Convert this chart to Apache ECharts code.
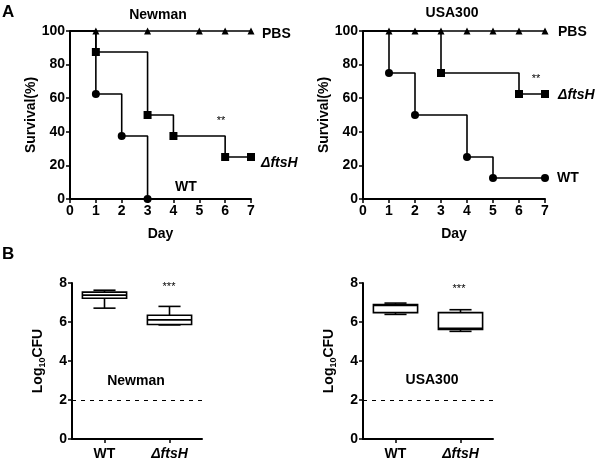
<!DOCTYPE html>
<html><head><meta charset="utf-8">
<script src="https://cdn.jsdelivr.net/npm/echarts@6/dist/echarts.min.js"></script>
<style>html,body{margin:0;padding:0;background:#fff}#c{width:600px;height:462px}</style>
</head><body><div id="c"></div>
<script>
// ---- Panel A: survival (Kaplan-Meier) ----
const newmanPbsDays = [0, 1, 3, 5, 6, 7];
const newmanPbsVals = [100, 100, 100, 100, 100, 100];
const newmanFtsDays = [0, 1, 3, 4, 6, 7];
const newmanFtsVals = [100, 87.5, 50, 37.5, 25, 25];
const newmanWtDays = [0, 1, 2, 3];
const newmanWtVals = [100, 62.5, 37.5, 0];

const usaPbsDays = [0, 1, 2, 3, 4, 5, 6, 7];
const usaPbsVals = [100, 100, 100, 100, 100, 100, 100, 100];
const usaFtsDays = [0, 3, 6, 7];
const usaFtsVals = [100, 75, 62.5, 62.5];
const usaWtDays = [0, 1, 2, 4, 5, 7];
const usaWtVals = [100, 75, 50, 25, 12.5, 12.5];

// ---- Panel B: Log10 CFU box plots [min, Q1, median, Q3, max] ----
const boxCategories = ['WT', 'ΔftsH'];
const newmanBoxWT = [6.71, 7.22, 7.38, 7.53, 7.63];
const newmanBoxFts = [5.85, 5.87, 6.11, 6.35, 6.80];
const usaBoxWT = [6.39, 6.48, 6.85, 6.90, 6.97];
const usaBoxFts = [5.52, 5.62, 5.68, 6.48, 6.63];
const detectionLimit = 2;

const FF = '"Liberation Sans", Arial, sans-serif';
const chart = echarts.init(document.getElementById('c'), null, {renderer: 'canvas'});

function kmData(days, vals) {
  return days.map((d, i) => i === 0 ? {value: [d, vals[i]], symbol: 'none'} : [d, vals[i]]);
}
function kmSeries(idx, days, vals, symbol, size) {
  return {
    type: 'line', xAxisIndex: idx, yAxisIndex: idx, step: 'end',
    data: kmData(days, vals), symbol: symbol, symbolSize: size, showSymbol: true,
    lineStyle: {color: '#000', width: 1.6}, itemStyle: {color: '#000'},
    clip: false, animation: false, z: 3
  };
}
function boxSeries(idx, boxes) {
  return {
    type: 'custom', xAxisIndex: idx, yAxisIndex: idx, clip: false, animation: false,
    data: boxes.map((b, i) => [i].concat(b)),
    encode: {x: 0, y: [1, 2, 3, 4, 5]},
    renderItem: function (params, api) {
      const i = api.value(0);
      const mn = api.coord([i, api.value(1)]);
      const q1 = api.coord([i, api.value(2)]);
      const md = api.coord([i, api.value(3)]);
      const q3 = api.coord([i, api.value(4)]);
      const mx = api.coord([i, api.value(5)]);
      const bw = api.size([1, 0])[0] * 0.68;
      const cw = bw * 0.5;
      const cx = md[0];
      const st = {stroke: '#000', lineWidth: 1.6, fill: null};
      return {
        type: 'group', children: [
          {type: 'line', shape: {x1: cx, y1: q3[1], x2: cx, y2: mx[1]}, style: st},
          {type: 'line', shape: {x1: cx, y1: q1[1], x2: cx, y2: mn[1]}, style: st},
          {type: 'line', shape: {x1: cx - cw / 2, y1: mx[1], x2: cx + cw / 2, y2: mx[1]}, style: st},
          {type: 'line', shape: {x1: cx - cw / 2, y1: mn[1], x2: cx + cw / 2, y2: mn[1]}, style: st},
          {type: 'rect', shape: {x: cx - bw / 2, y: q3[1], width: bw, height: q1[1] - q3[1]},
            style: {stroke: '#000', lineWidth: 1.6, fill: '#fff'}},
          {type: 'line', shape: {x1: cx - bw / 2, y1: md[1], x2: cx + bw / 2, y2: md[1]}, style: st}
        ]
      };
    }
  };
}
function limitSeries(idx) {
  return {
    type: 'line', xAxisIndex: idx, yAxisIndex: idx, data: [], animation: false,
    markLine: {
      silent: true, symbol: 'none', label: {show: false},
      lineStyle: {color: '#000', type: [4, 5], width: 1.2},
      data: [{yAxis: detectionLimit}]
    }
  };
}

const axisLine = {show: true, onZero: false, lineStyle: {color: '#000', width: 2}};
const axisTick = {show: true, inside: false, length: 4, lineStyle: {color: '#000', width: 1.5}};
const axisLabel = {color: '#000', fontWeight: 'bold', fontSize: 14, fontFamily: FF, margin: 5};
const nameStyle = {color: '#000', fontWeight: 'bold', fontSize: 14, fontFamily: FF};

function survX(gi) {
  return {type: 'value', gridIndex: gi, min: 0, max: 7, interval: 1, axisLine, axisTick, axisLabel,
    splitLine: {show: false}, name: 'Day', nameLocation: 'middle', nameGap: 28, nameTextStyle: nameStyle};
}
function survY(gi) {
  return {type: 'value', gridIndex: gi, min: 0, max: 100, interval: 20, axisLine, axisTick, axisLabel,
    splitLine: {show: false}, name: 'Survival(%)', nameLocation: 'middle', nameGap: 31, nameTextStyle: nameStyle};
}
function boxX(gi) {
  return {type: 'category', gridIndex: gi, data: boxCategories, axisLine,
    axisTick: {show: true, alignWithLabel: true, interval: 0, length: 4, lineStyle: {color: '#000', width: 1.5}},
    axisLabel: {color: '#000', fontWeight: 'bold', fontSize: 14, fontFamily: FF, margin: 8, interval: 0,
      hideOverlap: false,
      formatter: v => v === 'WT' ? v : '{i|' + v + '}',
      rich: {i: {fontStyle: 'italic', fontWeight: 'bold', fontSize: 14, fontFamily: FF, color: '#000'}}},
    splitLine: {show: false}};
}
function boxY(gi) {
  return {type: 'value', gridIndex: gi, min: 0, max: 8, interval: 2, axisLine, axisTick, axisLabel,
    splitLine: {show: false}, name: '{a|Log}{s|10}{a|CFU}', nameLocation: 'middle', nameGap: 25,
    nameTextStyle: {rich: {
      a: {color: '#000', fontWeight: 'bold', fontSize: 14, fontFamily: FF},
      s: {color: '#000', fontWeight: 'bold', fontSize: 9, fontFamily: FF, padding: [9, 0, 0, 0]}
    }}};
}

function txt(x, y, text, size, opts) {
  opts = opts || {};
  return {type: 'text', x: x, y: y, silent: true, style: {
    text: text, fill: '#000',
    font: (opts.italic ? 'italic ' : '') + (opts.bold === false ? 'normal ' : 'bold ') + size + 'px ' + FF,
    textAlign: opts.align || 'left', textVerticalAlign: 'middle'}};
}

chart.setOption({
  animation: false,
  grid: [
    {left: 70, top: 31, width: 181, height: 168},
    {left: 363, top: 31, width: 182, height: 168},
    {left: 72, top: 283, width: 130, height: 156},
    {left: 363, top: 283, width: 130, height: 156}
  ],
  xAxis: [survX(0), survX(1), boxX(2), boxX(3)],
  yAxis: [survY(0), survY(1), boxY(2), boxY(3)],
  series: [
    kmSeries(0, newmanPbsDays, newmanPbsVals, 'triangle', 7),
    kmSeries(0, newmanFtsDays, newmanFtsVals, 'rect', 8),
    kmSeries(0, newmanWtDays, newmanWtVals, 'circle', 8),
    kmSeries(1, usaPbsDays, usaPbsVals, 'triangle', 7),
    kmSeries(1, usaFtsDays, usaFtsVals, 'rect', 8),
    kmSeries(1, usaWtDays, usaWtVals, 'circle', 8),
    limitSeries(2), limitSeries(3),
    boxSeries(2, [newmanBoxWT, newmanBoxFts]),
    boxSeries(3, [usaBoxWT, usaBoxFts])
  ],
  graphic: [
    txt(2, 12, 'A', 17),
    txt(2, 254, 'B', 17),
    txt(158, 15, 'Newman', 14, {align: 'center'}),
    txt(452, 13, 'USA300', 14, {align: 'center'}),
    txt(262, 34, 'PBS', 14),
    txt(261, 163, 'ΔftsH', 14, {italic: true}),
    txt(186, 187, 'WT', 14, {align: 'center'}),
    txt(221, 121, '**', 11, {align: 'center', bold: false}),
    txt(558, 32, 'PBS', 14),
    txt(558, 95, 'ΔftsH', 14, {italic: true}),
    txt(557, 178, 'WT', 14),
    txt(536, 79, '**', 11, {align: 'center', bold: false}),
    txt(169, 287, '***', 11, {align: 'center', bold: false}),
    txt(459, 289, '***', 11, {align: 'center', bold: false}),
    txt(136, 381, 'Newman', 14, {align: 'center'}),
    txt(432, 380, 'USA300', 14, {align: 'center'})
  ]
});
</script></body></html>
